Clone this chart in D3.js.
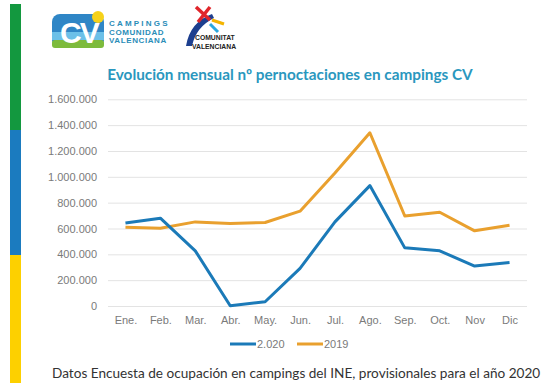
<!DOCTYPE html>
<html><head><meta charset="utf-8">
<script src="https://cdn.jsdelivr.net/npm/d3@7/dist/d3.min.js"></script>
<style>body{margin:0;background:#fff;}svg{display:block;}</style>
</head><body>
<svg id="c" width="545" height="385"></svg>
<script>
const months = ["Ene.","Feb.","Mar.","Abr.","May.","Jun.","Jul.","Ago.","Sep.","Oct.","Nov","Dic"];
const series2020 = [643000,680000,427000,2000,33000,291000,651000,932000,450000,427000,309000,337000];
const series2019 = [610000,602000,651000,638000,646000,734000,1030000,1341000,697000,726000,582000,625000];
const yTicks = [0,200000,400000,600000,800000,1000000,1200000,1400000,1600000];
const seriesNames = ["2.020","2019"];
const colors = ["#1b7ab8","#e9a02e"];

const svg = d3.select("#c");
// left color bar
svg.append("rect").attr("x",10).attr("y",4).attr("width",11).attr("height",126).attr("fill","#13983f");
svg.append("rect").attr("x",10).attr("y",130).attr("width",11).attr("height",125).attr("fill","#1b7bbf");
svg.append("rect").attr("x",10).attr("y",255).attr("width",11).attr("height",128).attr("fill","#fdd000");

// CV logo (simplified)
const lg = svg.append("g");
lg.append("rect").attr("x",52).attr("y",14).attr("width",52).attr("height",34).attr("rx",8).attr("fill","#2f86c6");
lg.append("rect").attr("x",52).attr("y",32).attr("width",52).attr("height",8).attr("fill","#6cc0e8");
lg.append("rect").attr("x",52).attr("y",40).attr("width",52).attr("height",8).attr("rx",3).attr("fill","#7dbb3c");
lg.append("circle").attr("cx",98).attr("cy",17).attr("r",6).attr("fill","#f6d21a");
lg.append("text").attr("x",60).attr("y",43).attr("font-family","Liberation Sans, Arial").attr("font-weight","bold").attr("font-size",30).attr("fill","#fff").attr("letter-spacing","-2").text("CV");
const lt = ["CAMPINGS","COMUNIDAD","VALENCIANA"];
lt.forEach((t,i)=>lg.append("text").attr("x",109).attr("y",26+i*8.5).attr("font-family","Liberation Sans, Arial").attr("font-weight","bold").attr("font-size",8).attr("fill","#2a8db8").attr("letter-spacing",i==0?"2.2":"0.6").text(t));

// Comunitat logo (simplified)
const cg = svg.append("g");
cg.append("path").attr("d","M186,46 Q190,22 212,14 L214,18 Q196,27 192,46 Z").attr("fill","#1d3f8f");
cg.append("path").attr("d","M196,7 L210,20 M210,7 L198,22").attr("stroke","#e0262b").attr("stroke-width",3.5).attr("fill","none");
cg.append("path").attr("d","M212,20 L224,24").attr("stroke","#f4b400").attr("stroke-width",3).attr("fill","none");
cg.append("path").attr("d","M210,24 L218,32").attr("stroke","#2aa7df").attr("stroke-width",3).attr("fill","none");
cg.append("text").attr("x",195).attr("y",40).attr("font-family","Liberation Sans, Arial").attr("font-weight","bold").attr("font-size",6.8).attr("fill","#222").text("COMUNITAT");
cg.append("text").attr("x",192).attr("y",48.5).attr("font-family","Liberation Sans, Arial").attr("font-weight","bold").attr("font-size",6.8).attr("fill","#222").text("VALENCIANA");

// title
svg.append("text").attr("x",290).attr("y",80).attr("text-anchor","middle")
  .attr("font-family","Lato, sans-serif").attr("font-weight","bold").attr("font-size",15.3)
  .attr("fill","#2a97be").text("Evolución mensual nº pernoctaciones en campings CV");

const pLeft=108, pRight=527, pTop=99.3, pBottom=306;
const x = d3.scalePoint().domain(months).range([pLeft,pRight]).padding(0.5);
const y = d3.scaleLinear().domain([0,1600000]).range([pBottom,pTop]);

const fmt = d => d3.format(",")(d).replace(/,/g,".");

const ga = svg.append("g").attr("transform",`translate(${pLeft},0)`)
  .call(d3.axisLeft(y).tickValues(yTicks).tickSize(-(pRight-pLeft)).tickPadding(11).tickFormat(fmt));
ga.select(".domain").remove();
ga.selectAll(".tick line").attr("stroke","#e3e3e3").attr("stroke-width",1);
ga.selectAll(".tick text").attr("font-family","Liberation Sans, Arial").attr("font-size",11).attr("fill","#7a7a7a");

const gx = svg.append("g").attr("transform",`translate(0,${pBottom})`)
  .call(d3.axisBottom(x).tickSize(0).tickPadding(10));
gx.select(".domain").remove();
gx.selectAll(".tick text").attr("font-family","Liberation Sans, Arial").attr("font-size",11).attr("fill","#7a7a7a");

const line = d3.line().x((d,i)=>x(months[i])).y(d=>y(d));
[series2019, series2020].forEach((s,k)=>{
  const ci = k==0?1:0;
  svg.append("path").datum(s).attr("d",line).attr("fill","none")
    .attr("stroke",colors[ci]).attr("stroke-width",3).attr("stroke-linejoin","round");
});

// legend
const legX=[230,297];
seriesNames.forEach((n,i)=>{
  svg.append("line").attr("x1",legX[i]).attr("x2",legX[i]+26).attr("y1",344).attr("y2",344)
    .attr("stroke",colors[i]).attr("stroke-width",3);
  svg.append("text").attr("x",legX[i]+27).attr("y",348).attr("font-family","Liberation Sans, Arial")
    .attr("font-size",11).attr("fill","#7a7a7a").text(n);
});

svg.append("text").attr("x",52).attr("y",378).attr("font-family","Lato, sans-serif").attr("font-size",13.6)
  .attr("fill","#333").text("Datos Encuesta de ocupación en campings del INE, provisionales para el año 2020");
</script>
</body></html>
